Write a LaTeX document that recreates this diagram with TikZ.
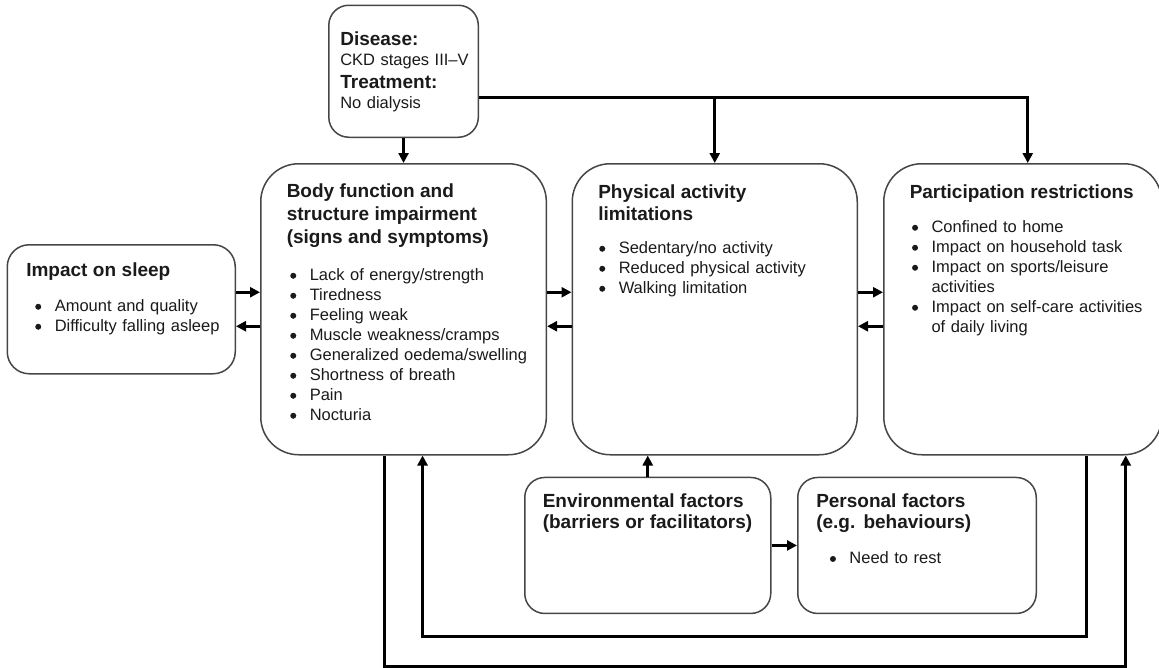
\documentclass[tikz,border=0pt]{standalone}
\usepackage{fontspec}
\setmainfont{Liberation Sans}
\usetikzlibrary{positioning,arrows.meta}

\definecolor{boxline}{RGB}{70,70,70}
\definecolor{ink}{RGB}{26,26,26}

\newcommand{\bodyfont}{\fontsize{16.5}{20}\selectfont}
\newcommand{\hd}[1]{\mbox{\fontsize{19}{23}\selectfont\bfseries #1}}
\newcommand{\bul}{\tikz[baseline=0pt]\fill[ink] (3pt,5pt) circle[radius=3pt];}
\newcommand{\itm}[2][6]{\mbox{\hspace*{\dimexpr#1pt-5pt}\makebox[10pt][c]{\bul}\hspace*{11.5pt}#2}}
\newcommand{\cnt}[2][6]{\mbox{\hspace*{\dimexpr#1pt+16.5pt}#2}}

\tikzset{
	panel/.style={draw=boxline, line width=1.5pt, align=left, text=ink, font=\bodyfont, text height=15pt}, % every box of the model
	flow/.style={draw=black, line width=3.2pt, -{Triangle[length=10pt,width=10pt]}}, % thick arrows between boxes
	node distance=25pt, % gap between neighbouring boxes
}

\begin{document}
\begin{tikzpicture}[x=1pt, y=-1pt]
		\useasboundingbox (0,0) rectangle (1159,667);
		% middle row
		\node[panel, anchor=north west, rounded corners=38pt, text width=233.6pt, text depth=238pt, inner xsep=26pt, inner ysep=19pt] (body) at (260,163)
			{\hd{Body function and}\\[3pt]
			 \hd{structure impairment}\\[3pt]
			 \hd{(signs and symptoms)}\\[17pt]
			 \itm[6.5]{Lack of energy/strength}\\
			 \itm[6.5]{Tiredness}\\
			 \itm[6.5]{Feeling weak}\\
			 \itm[6.5]{Muscle weakness/cramps}\\
			 \itm[6.5]{Generalized oedema/swelling}\\
			 \itm[6.5]{Shortness of breath}\\
			 \itm[6.5]{Pain}\\
			 \itm[6.5]{Nocturia}};
		\node[panel, right=24.4pt of body, rounded corners=38pt, text width=233pt, text depth=236pt, inner xsep=26pt, inner ysep=20pt] (phys)
			{\hd{Physical activity}\\[2pt]
			 \hd{limitations}\\[13pt]
			 \itm[4]{Sedentary/no activity}\\
			 \itm[4]{Reduced physical activity}\\
			 \itm[4]{Walking limitation}};
		\node[panel, right=of phys, rounded corners=38pt, text width=226pt, text depth=236pt, inner xsep=26pt, inner ysep=20pt] (partic)
			{\hd{Participation restrictions}\\[14pt]
			 \itm[5.3]{Confined to home}\\
			 \itm[5.3]{Impact on household task}\\
			 \itm[5.3]{Impact on sports/leisure}\\
			 \cnt[5.3]{activities}\\
			 \itm[5.3]{Impact on self-care activities}\\
			 \cnt[5.3]{of daily living}};
		\node[panel, left=24pt of body, rounded corners=22pt, text width=190pt, text depth=80pt, inner xsep=19pt, inner ysep=17pt] (sleep)
			{\hd{Impact on sleep}\\[15pt]
			 \itm[12]{Amount and quality}\\
			 \itm[12]{Difficulty falling asleep}};
		% top box
		\node[panel, above=of body, rounded corners=20pt, text width=126.5pt, text depth=65.6pt, inner xsep=11.5pt, inner ysep=25.7pt] (disease)
			{\hd{Disease:}\\
			 \mbox{CKD stages III--V}\\[2.6pt]
			 \hd{Treatment:}\\
			 \mbox{No dialysis}};
		% contextual factors
		\node[panel, anchor=north west, rounded corners=20pt, text width=210pt, text depth=91pt, inner xsep=18pt, inner ysep=15pt] (env) at (524,476.7)
			{\hd{Environmental factors}\\[1.5pt]
			 \hd{(barriers or facilitators)}};
		\node[panel, right=25.5pt of env, rounded corners=20pt, text width=201.5pt, text depth=91pt, inner xsep=18.5pt, inner ysep=15pt] (personal)
			{\hd{Personal factors}\\[1.5pt]
			 \hd{(e.g. behaviours)}\\[15pt]
			 \itm[16.7]{Need to rest}};
		
		\coordinate (bus) at ([yshift=-26pt]disease.east);
		\draw[flow] (disease.south) -- (body.north);
		\draw[flow] (bus) -| ([xshift=5pt]partic.north);
		\draw[flow] (bus -| phys.north) -- (phys.north);
		
		\draw[flow] ([yshift=17pt]sleep.east) -- ([yshift=17pt]body.west);
		\draw[flow] ([yshift=-17pt]body.west) -- ([yshift=-17pt]sleep.east);
		\draw[flow] ([yshift=17pt]body.east) -- ([yshift=17pt]phys.west);
		\draw[flow] ([yshift=-17pt]phys.west) -- ([yshift=-17pt]body.east);
		\draw[flow] ([yshift=17pt]phys.east) -- ([yshift=17pt]partic.west);
		\draw[flow] ([yshift=-17pt]partic.west) -- ([yshift=-17pt]phys.east);
		
		\draw[flow] (env.north) -- (env.north |- phys.south);
		\draw[flow] (env.east) -- (personal.west);
		
		\draw[flow] ([xshift=-19pt]body.south) -- ++(0,211) -| ([xshift=103pt]partic.south);
		\draw[flow] ([xshift=64pt]partic.south) -- ++(0,181) -| ([xshift=19pt]body.south);
	\end{tikzpicture}
\end{document}
